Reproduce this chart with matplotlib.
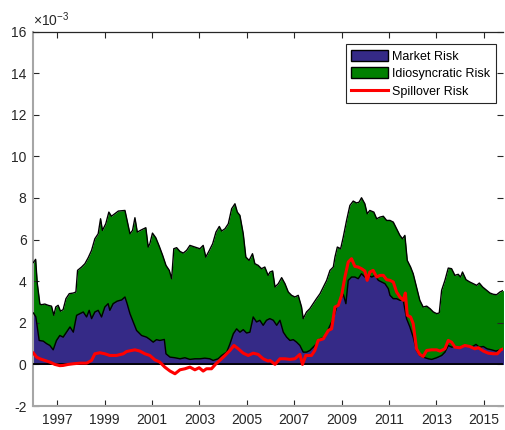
import matplotlib
matplotlib.use("Agg")
import matplotlib.pyplot as plt
from matplotlib.patches import Patch
from matplotlib.lines import Line2D
import numpy as np

plt.rcParams['font.family'] = ['Liberation Sans', 'DejaVu Sans']
plt.rcParams['mathtext.fontset'] = 'custom'
plt.rcParams['mathtext.rm'] = 'Liberation Sans'

# values in units of 1e-3
# top of the stacked area (market + idiosyncratic)
total_years = [1996.00, 1996.09, 1996.16, 1996.27, 1996.34, 1996.48, 1996.62, 1996.76, 1996.86, 1996.94,
               1997.04, 1997.14, 1997.25, 1997.37, 1997.51, 1997.68, 1997.79, 1997.86, 1998.03, 1998.17,
               1998.31, 1998.45, 1998.59, 1998.73, 1998.83, 1998.91, 1999.05, 1999.18, 1999.29, 1999.43,
               1999.58, 1999.86, 1999.95, 2000.07, 2000.18, 2000.28, 2000.38, 2000.56, 2000.74, 2000.84,
               2000.91, 2001.02, 2001.16, 2001.31, 2001.45, 2001.59, 2001.73, 2001.83, 2001.92, 2002.04,
               2002.18, 2002.32, 2002.46, 2002.60, 2002.81, 2003.02, 2003.16, 2003.27, 2003.42, 2003.56,
               2003.70, 2003.84, 2003.94, 2004.08, 2004.22, 2004.36, 2004.50, 2004.60, 2004.71, 2004.85,
               2004.96, 2005.10, 2005.24, 2005.34, 2005.48, 2005.62, 2005.76, 2005.90,
               2005.98, 2006.09, 2006.19, 2006.33, 2006.47, 2006.61, 2006.75, 2006.89, 2007.03, 2007.17,
               2007.31, 2007.38, 2007.52, 2007.66, 2007.80, 2007.94, 2008.09, 2008.23, 2008.37, 2008.51,
               2008.65, 2008.72, 2008.82, 2008.96, 2009.07, 2009.21, 2009.35, 2009.49, 2009.63, 2009.74,
               2009.84, 2009.98, 2010.08, 2010.19, 2010.36, 2010.48, 2010.62, 2010.76, 2010.90,
               2011.04, 2011.18, 2011.32, 2011.46, 2011.57, 2011.67, 2011.77, 2011.91, 2012.02, 2012.16,
               2012.30, 2012.44, 2012.59, 2012.73, 2012.87, 2013.01, 2013.12, 2013.22, 2013.36, 2013.50,
               2013.64, 2013.78, 2013.92, 2014.02, 2014.10, 2014.25, 2014.41, 2014.55, 2014.70, 2014.81,
               2014.95, 2015.12, 2015.26, 2015.40, 2015.54, 2015.68, 2015.83]
total_risk = [4.90, 5.05, 3.90, 2.90, 2.87, 2.90, 2.84, 2.80, 2.36, 2.76,
              2.84, 2.56, 2.63, 3.16, 3.40, 3.43, 3.48, 4.52, 4.68, 4.84,
              5.13, 5.48, 6.04, 6.28, 7.00, 6.44, 6.76, 7.32, 7.12, 7.24,
              7.37, 7.40, 6.92, 6.28, 6.44, 7.05, 6.36, 6.47, 6.57, 5.64,
              5.80, 6.31, 6.09, 5.67, 5.24, 4.76, 4.52, 4.12, 5.56, 5.61,
              5.43, 5.35, 5.48, 5.72, 5.64, 5.56, 5.72, 5.16, 5.48, 5.80,
              6.36, 6.63, 6.41, 6.52, 6.76, 7.48, 7.72, 7.32, 7.16, 6.28,
              5.16, 5.00, 5.32, 4.84, 4.76, 4.60, 4.68, 4.28,
              4.44, 4.49, 3.72, 3.88, 4.17, 3.88, 3.48, 3.32, 3.24, 3.32,
              2.76, 2.20, 2.52, 2.68, 2.92, 3.16, 3.40, 3.72, 4.04, 4.52,
              4.68, 5.16, 5.64, 5.56, 6.12, 6.92, 7.64, 7.85, 7.76, 7.80,
              8.01, 7.72, 7.24, 7.40, 7.32, 7.00, 7.08, 7.12, 6.92,
              6.92, 6.84, 6.52, 6.20, 6.04, 6.20, 5.00, 4.68, 4.36, 3.72,
              3.08, 2.76, 2.80, 2.68, 2.52, 2.44, 2.47, 3.56, 4.04, 4.63,
              4.60, 4.28, 4.33, 4.20, 4.44, 4.07, 3.96, 3.88, 3.80, 3.91,
              3.72, 3.56, 3.43, 3.37, 3.35, 3.48, 3.56]

market_years = [1996.00, 1996.10, 1996.24, 1996.41, 1996.55, 1996.69, 1996.83, 1996.97, 1997.11, 1997.25,
                1997.39, 1997.54, 1997.68, 1997.82, 1997.96, 1998.10, 1998.24, 1998.35, 1998.45, 1998.59,
                1998.73, 1998.87, 1999.01, 1999.15, 1999.22, 1999.36, 1999.53, 1999.72, 1999.86, 1999.95,
                2000.07, 2000.21, 2000.35, 2000.56, 2000.77,
                2000.91, 2001.05, 2001.19, 2001.33, 2001.52, 2001.59, 2001.76, 2001.97, 2002.18, 2002.39,
                2002.60, 2002.81, 2003.02, 2003.23, 2003.44, 2003.58, 2003.79, 2003.94, 2004.15, 2004.29,
                2004.43, 2004.57, 2004.71, 2004.85, 2004.99, 2005.13, 2005.27, 2005.41, 2005.55, 2005.69,
                2005.83, 2005.97,
                2006.12, 2006.26, 2006.40, 2006.54, 2006.68, 2006.82, 2006.96, 2007.10, 2007.24, 2007.38,
                2007.52, 2007.66, 2007.80, 2007.94, 2008.09, 2008.30, 2008.48, 2008.65, 2008.79, 2008.93,
                2009.07, 2009.18, 2009.28, 2009.42, 2009.56, 2009.70, 2009.84, 2009.98, 2010.12, 2010.27,
                2010.41, 2010.55, 2010.69, 2010.83, 2010.97,
                2011.04, 2011.18, 2011.32, 2011.46, 2011.60, 2011.74, 2011.88, 2012.02, 2012.16, 2012.30,
                2012.44, 2012.66, 2012.80, 2013.01, 2013.22, 2013.36, 2013.50, 2013.64, 2013.78, 2013.99,
                2014.16, 2014.34, 2014.48, 2014.67, 2014.81, 2014.98, 2015.14, 2015.33, 2015.51, 2015.68,
                2015.83]
market_risk = [2.47, 2.28, 1.15, 1.12, 1.00, 0.91, 0.70, 1.15, 1.39, 1.31,
               1.55, 1.80, 1.55, 2.36, 2.44, 2.52, 2.28, 2.60, 2.20, 2.52,
               2.60, 2.28, 2.76, 2.92, 2.60, 2.92, 3.04, 3.10, 3.24, 2.92,
               2.44, 2.04, 1.63, 1.39, 1.31,
               1.20, 1.07, 1.19, 1.15, 1.20, 0.51, 0.35, 0.32, 0.27, 0.32,
               0.24, 0.27, 0.27, 0.30, 0.27, 0.19, 0.27, 0.43, 0.59, 0.99,
               1.47, 1.71, 1.55, 1.67, 1.51, 1.55, 2.28, 2.04, 2.12, 1.88,
               2.12, 2.20,
               2.12, 1.88, 2.12, 1.55, 1.31, 1.15, 1.19, 1.07, 0.91, 0.59,
               0.59, 0.67, 0.83, 0.99, 1.23, 1.31, 1.80, 2.20, 2.76, 3.08,
               3.37, 2.92, 4.04, 4.20, 4.20, 4.12, 4.36, 4.20, 4.28, 4.20,
               4.28, 4.04, 3.96, 3.88, 3.64,
               3.32, 3.16, 3.16, 3.08, 3.08, 2.20, 1.80, 1.31, 0.67, 0.43,
               0.35, 0.27, 0.24, 0.32, 0.43, 0.59, 0.91, 0.83, 0.86, 0.83,
               0.91, 0.88, 0.83, 0.96, 0.83, 0.86, 0.75, 0.70, 0.64, 0.70,
               0.75]

spill_years = [1996.00, 1996.13, 1996.27, 1996.48, 1996.69, 1996.90, 1997.11, 1997.25, 1997.47, 1997.68,
               1997.96, 1998.24, 1998.45, 1998.59, 1998.80, 1999.01, 1999.22, 1999.50, 1999.79, 1999.93,
               2000.14, 2000.28, 2000.49, 2000.70,
               2000.91, 2001.12, 2001.33, 2001.54, 2001.76, 2001.97, 2002.18, 2002.39, 2002.60, 2002.81,
               2002.99, 2003.16, 2003.30, 2003.51, 2003.70, 2003.86, 2004.08, 2004.29, 2004.46, 2004.64,
               2004.85, 2005.06, 2005.27, 2005.48, 2005.69, 2005.90,
               2005.98, 2006.19, 2006.40, 2006.61, 2006.82, 2007.03, 2007.24, 2007.35, 2007.49, 2007.73,
               2007.87, 2008.01, 2008.23, 2008.44, 2008.58, 2008.72, 2008.86, 2009.00, 2009.14, 2009.28,
               2009.42, 2009.56, 2009.70, 2009.84, 2009.98, 2010.08, 2010.19, 2010.33, 2010.48, 2010.62,
               2010.76, 2010.90,
               2011.04, 2011.18, 2011.32, 2011.46, 2011.60, 2011.69, 2011.77, 2011.91, 2012.02, 2012.16,
               2012.30, 2012.44, 2012.59, 2012.80, 2013.01, 2013.15, 2013.36, 2013.50, 2013.64, 2013.78,
               2013.99, 2014.20, 2014.41, 2014.62, 2014.77, 2014.98, 2015.19, 2015.40, 2015.57, 2015.72,
               2015.83]
spillover_risk = [0.54, 0.35, 0.27, 0.19, 0.11, 0.00, -0.06, -0.05, 0.00, 0.03,
                  0.06, 0.06, 0.19, 0.51, 0.56, 0.51, 0.43, 0.43, 0.51, 0.62,
                  0.67, 0.70, 0.64, 0.51,
                  0.43, 0.22, 0.11, -0.13, -0.32, -0.45, -0.26, -0.21, -0.13, -0.26,
                  -0.16, -0.32, -0.21, -0.21, 0.03, 0.19, 0.43, 0.67, 0.91, 0.75,
                  0.54, 0.43, 0.54, 0.48, 0.27, 0.16,
                  0.19, 0.00, 0.27, 0.27, 0.24, 0.27, 0.48, 0.00, 0.43, 0.43,
                  0.67, 1.15, 1.23, 1.63, 1.71, 2.76, 2.84, 3.32, 4.20, 4.92,
                  5.08, 4.71, 4.68, 4.60, 4.49, 4.04, 4.44, 4.52, 4.20, 4.28,
                  4.28, 4.07,
                  4.04, 3.96, 3.48, 3.24, 3.08, 3.43, 2.36, 2.28, 1.96, 0.75,
                  0.48, 0.38, 0.67, 0.70, 0.70, 0.64, 0.75, 1.15, 1.07, 0.83,
                  0.80, 0.91, 0.86, 0.75, 0.80, 0.64, 0.54, 0.51, 0.51, 0.70,
                  0.75]

year_ticks = [1997, 1999, 2001, 2003, 2005, 2007, 2009, 2011, 2013, 2015]
y_ticks = [-2, 0, 2, 4, 6, 8, 10, 12, 14, 16]

navy = '#352A87'
green = '#008000'
dark = '#262626'

fig = plt.figure(figsize=(5.05, 4.30), dpi=100)
ax = fig.add_axes([0.0663, 0.0558, 0.9307, 0.8709])

ax.fill_between(total_years, 0, total_risk, color=green, lw=0, zorder=1)
ax.fill_between(market_years, 0, market_risk, color=navy, lw=0, zorder=2)
ax.plot(total_years, total_risk, color='k', lw=1.0, zorder=3)
ax.plot(market_years, market_risk, color='k', lw=1.0, zorder=3)
ax.axhline(0, color='k', lw=1.3, zorder=3)
ax.plot(spill_years, spillover_risk, color='#FF0000', lw=2.2, zorder=4)

ax.set_xlim(1996.0, 2015.83)
ax.set_ylim(-2, 16)
ax.set_xticks(year_ticks)
ax.set_xticklabels([str(y) for y in year_ticks])
ax.set_yticks(y_ticks)
ax.set_yticklabels([str(v) for v in y_ticks])
ax.tick_params(direction='in', length=4, width=0.8, color=dark, labelsize=10,
               labelcolor=dark, top=True, right=True, pad=5)

for side in ['left', 'bottom']:
    ax.spines[side].set_color('#A6A6A6')
    ax.spines[side].set_linewidth(1.5)
ax.spines['top'].set_color(dark)
ax.spines['top'].set_linewidth(0.9)
ax.spines['right'].set_visible(False)

ax.text(0.0, 1.006, r'$\times10^{-3}$', transform=ax.transAxes, fontsize=10,
        color=dark, ha='left', va='bottom')

handles = [Patch(facecolor=navy, edgecolor='k', lw=1.0),
           Patch(facecolor=green, edgecolor='k', lw=1.0),
           Line2D([], [], color='#FF0000', lw=2.2)]
labels = ['Market Risk', 'Idiosyncratic Risk', 'Spillover Risk']
leg = ax.legend(handles, labels, loc='upper right', bbox_to_anchor=(0.9834, 0.9666),
                borderaxespad=0, fontsize=9, fancybox=False, framealpha=1,
                edgecolor=dark, handlelength=2.9, handleheight=1.0,
                handletextpad=0.35, labelspacing=0.38, borderpad=0.45)
leg.get_frame().set_linewidth(0.8)

fig.savefig('out.png', dpi=100)
